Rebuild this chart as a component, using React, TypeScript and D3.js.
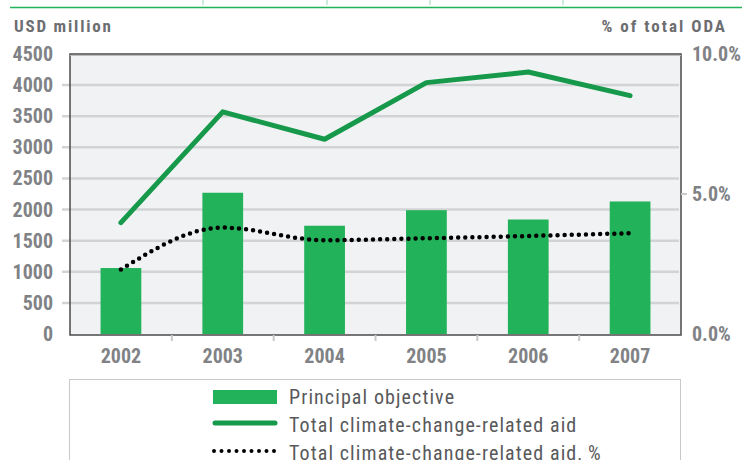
import * as d3 from "d3";

const years = ["2002", "2003", "2004", "2005", "2006", "2007"];
const principal = [1060, 2270, 1740, 1990, 1840, 2130];
const totalAid = [1790, 3570, 3130, 4040, 4210, 3830];
const totalPct = [2.3, 3.8, 3.35, 3.42, 3.5, 3.6];
const leftTicks = [0, 500, 1000, 1500, 2000, 2500, 3000, 3500, 4000, 4500];
const rightTicks = [0, 5, 10];
const legendLabels = [
  "Principal objective",
  "Total climate-change-related aid",
  "Total climate-change-related aid, %",
];

const W = 754;
const H = 460;
const left = 70;
const right = 681;
const top = 54;
const bottom = 334;

const FONT = "'Liberation Sans Narrow', 'Roboto Condensed', Arial, sans-serif";
const barColor = "#22b25a";
const lineColor = "#16994a";

export default function App() {
  const x = d3.scaleBand<string>().domain(years).range([left, right]).paddingInner(0.6).paddingOuter(0.3);
  const xPoint = (y: string) => (x(y) ?? 0) + x.bandwidth() / 2;
  const yL = d3.scaleLinear().domain([0, 4500]).range([bottom, top]);
  const yR = d3.scaleLinear().domain([0, 10]).range([bottom, top]);
  const step = (right - left) / years.length;

  const totalLine = d3
    .line<number>()
    .x((_, i) => xPoint(years[i]))
    .y((d) => yL(d))(totalAid);
  const pctLine = d3
    .line<number>()
    .x((_, i) => xPoint(years[i]))
    .y((d) => yR(d))
    .curve(d3.curveMonotoneX)(totalPct);

  return (
    <svg width={W} height={H} style={{ position: "absolute", left: 0, top: 0 }} fontFamily={FONT}>
      <rect width={W} height={H} fill="#fff" />
      {/* top rule left over from the page */}
      <line x1={10} x2={742} y1={7.5} y2={7.5} stroke="#22b25a" strokeWidth={1.5} />
      {[203, 327, 430, 563].map((tx) => (
        <line key={tx} x1={tx} x2={tx} y1={0} y2={5} stroke="#7fd19f" strokeWidth={0.8} />
      ))}

      <text x={14} y={32} fontSize={17} fontWeight="bold" fill="#6d6e71" letterSpacing={1.8}>
        USD million
      </text>
      <text x={727} y={32} fontSize={17} fontWeight="bold" fill="#6d6e71" letterSpacing={2} textAnchor="end">
        % of total ODA
      </text>

      {/* plot background */}
      <rect x={left} y={top} width={right - left} height={bottom - top + 1} fill="#f1f2f4" />

      {/* gridlines */}
      {leftTicks.slice(1, -1).map((t) => (
        <line key={t} x1={62} x2={right - 2} y1={yL(t)} y2={yL(t)} stroke="#d2d3d5" strokeWidth={2.5} />
      ))}

      {/* bars */}
      {principal.map((v, i) => (
        <rect key={years[i]} x={x(years[i])} y={yL(v)} width={x.bandwidth()} height={bottom - yL(v)} fill={barColor} />
      ))}

      {/* frame */}
      <rect x={left} y={top} width={right - left} height={bottom - top + 1} fill="none" stroke="#4a4a4a" strokeWidth={1.5} />
      <line x1={left} x2={right} y1={top + 1.5} y2={top + 1.5} stroke="#bbb" strokeWidth={1} />

      {/* category boundary ticks */}
      {years.slice(1).map((_, i) => (
        <line key={i} x1={left + step * (i + 1)} x2={left + step * (i + 1)} y1={bottom + 1} y2={bottom + 7} stroke="#c8c9cb" strokeWidth={2} />
      ))}
      <line x1={right} x2={right + 6} y1={yR(5)} y2={yR(5)} stroke="#c8c9cb" strokeWidth={2} />

      {/* lines */}
      <path d={totalLine ?? ""} fill="none" stroke={lineColor} strokeWidth={5} strokeLinecap="round" strokeLinejoin="round" />
      <path d={pctLine ?? ""} fill="none" stroke="#000" strokeWidth={4.5} strokeLinecap="round" strokeDasharray="0 7.1" />

      {/* left axis labels */}
      {leftTicks.map((t) => (
        <text key={t} x={53} y={yL(t) + 7} fontSize={20} fontWeight="bold" fill="#808285" textAnchor="end">
          {t}
        </text>
      ))}
      {/* right axis labels */}
      {rightTicks.map((t) => (
        <text key={t} x={692} y={yR(t) + 7} fontSize={20} fontWeight="bold" fill="#808285">
          {t.toFixed(1)}%
        </text>
      ))}
      {/* x labels */}
      {years.map((y) => (
        <text key={y} x={xPoint(y)} y={363} fontSize={20} fontWeight="bold" fill="#808285" textAnchor="middle">
          {y}
        </text>
      ))}

      {/* legend */}
      <rect x={69.5} y={379.5} width={611} height={100} fill="#fff" stroke="#c8c9cb" strokeWidth={1} />
      <rect x={213} y={390} width={64} height={14} fill={barColor} />
      <line x1={215} x2={275} y1={423} y2={423} stroke={lineColor} strokeWidth={5} strokeLinecap="round" />
      <line x1={214} x2={276} y1={451} y2={451} stroke="#000" strokeWidth={4} strokeLinecap="round" strokeDasharray="0 7.5" />
      {legendLabels.map((l, i) => (
        <text key={l} x={289} y={404 + i * 28} fontSize={20} fill="#58595b" letterSpacing={1.1}>
          {l}
        </text>
      ))}
    </svg>
  );
}
